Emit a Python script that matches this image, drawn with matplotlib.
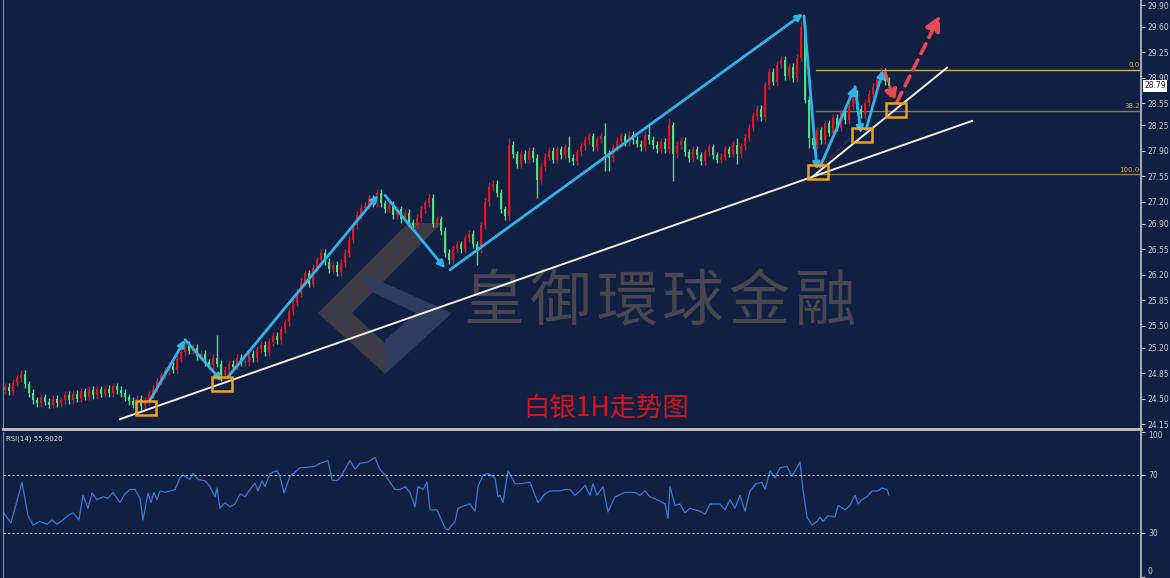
import matplotlib.pyplot as plt
from matplotlib.patches import Rectangle, Polygon, FancyArrowPatch
from matplotlib.transforms import blended_transform_factory

plt.rcParams['font.family'] = ['DejaVu Sans']

# Schlusskurse pro Kerze (1H)
closes = [
    24.66, 24.60, 24.72, 24.78, 24.84, 24.70, 24.58, 24.48, 24.44, 24.52,
    24.46, 24.42, 24.50, 24.44, 24.48, 24.55, 24.48, 24.57, 24.50, 24.60,
    24.53, 24.62, 24.55, 24.63, 24.57, 24.64, 24.58, 24.67, 24.62, 24.58,
    24.52, 24.47, 24.42, 24.50, 24.40, 24.47, 24.56, 24.64, 24.74, 24.82,
    24.88, 24.95, 24.90, 25.05, 25.14, 25.24, 25.16, 25.20, 25.08, 25.12,
    25.00, 24.96, 25.06, 24.98, 24.82, 24.90, 24.98, 24.94, 25.06, 25.00,
    25.00, 25.12, 25.06, 25.18, 25.24, 25.14, 25.28, 25.36, 25.30, 25.45,
    25.55, 25.70, 25.82, 25.95, 26.10, 26.22, 26.08, 26.30, 26.40, 26.50,
    26.38, 26.28, 26.34, 26.24, 26.36, 26.50, 26.68, 26.88, 27.02, 27.12,
    27.15, 27.25, 27.18, 27.32, 27.18, 27.10, 27.16, 27.02, 27.10, 26.96,
    27.05, 26.92, 26.88, 26.98, 27.10, 27.18, 27.26, 26.90, 26.96, 26.80,
    26.50, 26.40, 26.55, 26.62, 26.55, 26.70, 26.76, 26.62, 26.55, 26.88,
    27.20, 27.40, 27.45, 27.32, 27.10, 27.00, 27.98, 27.85, 27.72, 27.86,
    27.78, 27.90, 27.80, 27.50, 27.68, 27.82, 27.90, 27.78, 27.92, 27.84,
    27.95, 27.80, 27.76, 27.88, 27.96, 28.05, 28.10, 27.95, 28.06, 28.10,
    27.86, 27.80, 27.95, 28.04, 28.10, 28.02, 28.12, 28.05, 28.00, 27.95,
    28.12, 28.05, 27.98, 27.92, 28.02, 27.92, 28.25, 27.85, 27.98, 28.04,
    27.88, 27.80, 27.92, 27.84, 27.76, 27.88, 27.95, 27.84, 27.78, 27.82,
    27.92, 27.86, 27.98, 27.85, 27.96, 28.08, 28.22, 28.38, 28.48, 28.36,
    28.80, 28.98, 28.85, 29.08, 29.15, 28.92, 29.05, 28.90, 29.18, 29.60,
    28.60, 28.08, 27.98, 28.18, 28.05, 28.28, 28.15, 28.35, 28.22, 28.42,
    28.32, 28.52, 28.68, 28.48, 28.40, 28.56, 28.68, 28.78, 28.88, 28.98,
    28.86, 28.79,
]
erster_open = 24.62

# auffaellige Dochte (Index: Preis)
hochs = {4: 24.90, 53: 25.38, 121: 27.47, 126: 28.07, 141: 28.10, 150: 28.28,
         161: 28.28, 166: 28.35, 183: 28.08, 199: 29.68}
tiefs = {34: 24.35, 54: 24.74, 111: 26.35, 118: 26.33, 133: 27.25, 150: 27.63,
         151: 27.62, 167: 27.48, 183: 27.72, 201: 27.94, 214: 28.35}

# RSI(14) Verlauf (Kerzenindex, Wert)
rsi_idx = [-0.5, 1.5, 4.25, 5.75, 7, 8.75, 10.5, 11.75, 13, 14.25, 15.75, 17, 18.5, 19.5,
           20.75, 21.75, 23, 24.5, 25.75, 27, 28.75, 30, 31.25, 32.5, 33.75, 34.5, 35.75,
           36.5, 37.25, 38, 38.75, 40, 41.25, 42.5, 43.75, 44.5, 46.25, 47, 48.25, 50,
           51.25, 52.5, 53, 53.75, 55, 56.25, 57.5, 58.75, 60, 61.25, 62.5, 63.25, 64.25,
           65, 66.25, 68, 68.75, 69.75, 71.25, 72.5, 73.75, 76.25, 77.5, 78.75, 80.75,
           81.75, 83, 83.75, 85, 86.25, 87.5, 88.75, 90.75, 92.5, 93.25, 93.75, 95, 96.25,
           97.5, 98.75, 100, 101.25, 102.5, 103.25, 104.5, 105.5, 106.25, 108, 110, 110.75,
           112.5, 113.25, 115, 116.25, 117.5, 118.25, 119.5, 120.75, 122.5, 123.25, 123.75,
           124.5, 125.75, 127.5, 128.75, 131.25, 132.5, 133.25, 135, 136.25, 138.75, 140,
           141.25, 142.5, 143.75, 145, 146.25, 147, 148, 149.5, 150.75, 152.5, 155, 157.5,
           158.75, 160, 161.25, 163.75, 165, 165.75, 166.25, 167.5, 168.75, 170, 171.25,
           173.75, 175, 176.25, 178.75, 180, 181.25, 182.5, 183.75, 185, 186.25, 187.75,
           189.25, 190, 191.25, 192.5, 193.75, 195.5, 196.75, 198, 198.75, 199.5, 200.5,
           201.75, 203, 203.75, 204.5, 205.75, 207.5, 208.25, 210, 211.25, 212.5, 213.25,
           214.25, 215.5, 216.75, 218.25, 219.25, 220.5, 221]
rsi_val = [44.5, 37, 65, 42, 35.5, 38, 36, 39, 36, 38.5, 42, 44, 39, 56,
           47, 57.5, 53, 55, 54, 58, 51, 57, 60, 60, 54, 39, 57.5,
           51, 58, 53, 59, 58, 59, 60, 68, 70, 67, 71, 67, 66,
           62, 55, 61, 47, 51, 48, 50, 57, 55, 60, 64.5, 59, 66,
           62, 71, 73, 69, 57.5, 69, 72, 75, 75.5, 76, 78, 80,
           66.5, 66, 68, 74, 80, 74, 78, 79, 82, 77, 74, 70, 65,
           60, 60, 62, 58, 48, 62, 60, 65, 46, 46, 33.5, 32,
           38, 47, 49, 50, 45, 62, 70, 71, 68, 55, 56,
           51, 73, 64, 64, 65, 56, 51, 57, 59, 59, 60,
           60, 56, 59, 63, 56, 64, 56, 62, 44.5, 55, 58, 58,
           56, 59, 55, 52, 50, 40, 62, 49, 50, 44, 47,
           45, 43, 50, 50, 46, 53, 47, 56, 45, 59, 64,
           65, 60, 73, 68, 75, 76, 69, 75, 79, 60, 41,
           35.5, 38, 41, 38, 42, 41, 49, 46, 49, 56, 50,
           53, 55, 59, 59, 61, 60, 56]

preis_ticks = [29.90, 29.60, 29.25, 28.90, 28.55, 28.25, 27.90, 27.55, 27.20,
               26.90, 26.55, 26.20, 25.85, 25.50, 25.20, 24.85, 24.50, 24.15]
rsi_ticks = [100, 70, 30, 0]

# Fibonacci-Niveaus
fib_werte = [29.01, 28.45, 27.58]
fib_namen = ['0.0', '38.2', '100.0']
fib_start = 202.75

# Zeichnungen (Kerzenindex, Preis)
blaue_pfeile = [((36.25, 24.48), (45, 25.31)), ((45, 25.31), (54.25, 24.74)),
                ((55.75, 24.80), (93.25, 27.29)), ((95, 27.29), (110, 26.29)),
                ((111.25, 26.27), (199.5, 29.78)), ((199.75, 29.75), (203, 27.64)),
                ((203.75, 27.68), (212.5, 28.78)), ((212.5, 28.78), (214, 28.14)),
                ((215.25, 28.19), (219.5, 29.01))]
rote_pfeile = [((220, 28.98), (222.5, 28.57)), ((223, 28.57), (233.75, 29.76))]
weisse_linien = [((28.75, 24.22), (241.75, 28.31)), ((201.75, 27.54), (235.5, 29.04))]
boxen = [(35.25, 24.37), (54.25, 24.70), (203.25, 27.61), (214.25, 28.12), (222.75, 28.46)]

hintergrund = '#111f43'
rot = '#e3161e'
gruen = '#4ee07a'
blau = '#2fb4e9'

W, H = 1170, 578
fig = plt.figure(figsize=(W / 100, H / 100), dpi=100, facecolor=hintergrund)
ax = fig.add_axes([3 / W, 1 - 428.5 / H, 1138 / W, 428.5 / H], facecolor=hintergrund)
ax_rsi = fig.add_axes([3 / W, 1.5 / H, 1138 / W, 145 / H], facecolor=hintergrund)


def px(x, y):
    return (x / W, 1 - y / H)


# Wasserzeichen (Logo + Schrift), hinter den Kerzen
logo_dunkel = [[(318, 313), (408, 223), (442, 223), (352, 313)],
               [(318, 313), (385, 374), (385, 343), (352, 313)]]
logo_hell = [[(360, 272), (452, 313), (385, 374), (385, 340), (416, 313), (372, 292)]]
for pts in logo_dunkel:
    ax.add_patch(Polygon([px(*p) for p in pts], closed=True, transform=fig.transFigure,
                         facecolor='#3c3c46', edgecolor='none', zorder=0.5))
for pts in logo_hell:
    ax.add_patch(Polygon([px(*p) for p in pts], closed=True, transform=fig.transFigure,
                         facecolor='#2f3c5f', edgecolor='none', zorder=0.5))
for k, ch in enumerate('皇御環球金融'):
    ax.text(*px(494 + 66.2 * k, 303), ch, transform=fig.transFigure, fontsize=44,
            color='#47474f', family=['Noto Sans CJK SC'], ha='center', va='center', zorder=0.6)

# Kerzen (rot = steigend, gruen = fallend)
opens = [erster_open] + closes[:-1]
n = len(closes)
for i in range(n):
    o, c = opens[i], closes[i]
    farbe = rot if c >= o else gruen
    hi = hochs.get(i, max(o, c) + 0.05)
    lo = tiefs.get(i, min(o, c) - 0.05)
    ax.vlines(i, lo, hi, color=farbe, lw=1, zorder=3)
    ax.bar(i, max(abs(c - o), 0.012), bottom=min(o, c), width=0.65, color=farbe,
           linewidth=0, zorder=3)

# Fibonacci
for wert, name in zip(fib_werte, fib_namen):
    farbe = '#c8b45a' if name == '0.0' else '#8f7d3e'
    ax.plot([fib_start, 290], [wert, wert], color=farbe, lw=1, zorder=2)
    ax.text(0.999, wert + 0.02, name, transform=blended_transform_factory(ax.transAxes, ax.transData),
            ha='right', va='bottom', fontsize=5, color='#d8b848', zorder=6)

# Trendlinien
for (a, b) in weisse_linien:
    ax.plot([a[0], b[0]], [a[1], b[1]], color='#f2f0e6', lw=1.4, zorder=4)

# Pfeile
for (a, b) in blaue_pfeile:
    ax.add_patch(FancyArrowPatch(a, b, arrowstyle='-|>', mutation_scale=10, color=blau,
                                 lw=2, shrinkA=0, shrinkB=0, zorder=5))
ax.add_patch(FancyArrowPatch(rote_pfeile[0][0], rote_pfeile[0][1], arrowstyle='-|>',
                             mutation_scale=18, color='#e84850', lw=2.2, linestyle=(0, (3, 2)),
                             shrinkA=0, shrinkB=0, zorder=6))
ax.add_patch(FancyArrowPatch(rote_pfeile[1][0], rote_pfeile[1][1], arrowstyle='-|>',
                             mutation_scale=22, color='#e84850', lw=2.6, linestyle=(0, (3, 2)),
                             shrinkA=0, shrinkB=0, zorder=6))
ax.plot([203.75, 213.5], [27.66, 28.2], color='#c04050', lw=0.6, ls=':', zorder=4)

# Markierungsboxen
for (bx, by) in boxen:
    ax.add_patch(Rectangle((bx - 2.5, by - 0.096), 5, 0.192, fill=False,
                           edgecolor='#f0a21c', lw=1.8, zorder=6))

ax.set_xlim(-0.5, 284)
ax.set_ylim(24.092, 29.969)
ax.set_xticks([])
ax.yaxis.tick_right()
ax.set_yticks(preis_ticks)
ax.set_yticklabels([f'{t:.2f}' for t in preis_ticks])
ax.tick_params(axis='y', colors='#c8ccd8', labelsize=5.5, length=3, width=0.8, pad=2)
ax.spines['top'].set_visible(False)
ax.spines['left'].set_color('#8c90a0')
ax.spines['right'].set_color('#a0a6b4')
ax.spines['right'].set_linewidth(1.5)
ax.spines['bottom'].set_color('#c0c4cc')
ax.spines['bottom'].set_linewidth(2)

# aktueller Kurs
ax.text(1.003, closes[-1], f'{closes[-1]:.2f}',
        transform=blended_transform_factory(ax.transAxes, ax.transData),
        ha='left', va='center', fontsize=5.5, color=hintergrund, zorder=7, clip_on=False,
        bbox=dict(boxstyle='square,pad=0.15', facecolor='white', edgecolor='none'))

# Titel
fig.text(*px(606, 408), '白银1H走势图', fontsize=19, color='#d4161c',
         family=['Noto Sans CJK SC'], ha='center', va='center')

# RSI
ax_rsi.plot(rsi_idx, rsi_val, color='#3a7bd5', lw=0.9)
for lvl in [70, 30]:
    ax_rsi.axhline(lvl, color='#c0c4cc', lw=0.8, ls=(0, (2, 2)))
ax_rsi.set_xlim(-0.5, 284)
ax_rsi.set_ylim(0, 100)
ax_rsi.set_xticks([])
ax_rsi.yaxis.tick_right()
ax_rsi.set_yticks(rsi_ticks)
ax_rsi.set_yticklabels([str(t) for t in rsi_ticks])
ax_rsi.tick_params(axis='y', colors='#c8ccd8', labelsize=5.5, length=3, width=0.8, pad=2)
rsi_labels = ax_rsi.get_yticklabels()
rsi_labels[0].set_verticalalignment('top')
rsi_labels[-1].set_verticalalignment('bottom')
ax_rsi.spines['top'].set_visible(False)
ax_rsi.spines['bottom'].set_visible(False)
ax_rsi.spines['left'].set_color('#8c90a0')
ax_rsi.spines['right'].set_color('#a0a6b4')
ax_rsi.spines['right'].set_linewidth(1.5)
ax_rsi.text(0.003, 0.97, 'RSI(14) 55.9020', transform=ax_rsi.transAxes, ha='left', va='top',
            fontsize=5, color='#e0e4ec')

fig.savefig('out.png', dpi=100, facecolor=hintergrund)
